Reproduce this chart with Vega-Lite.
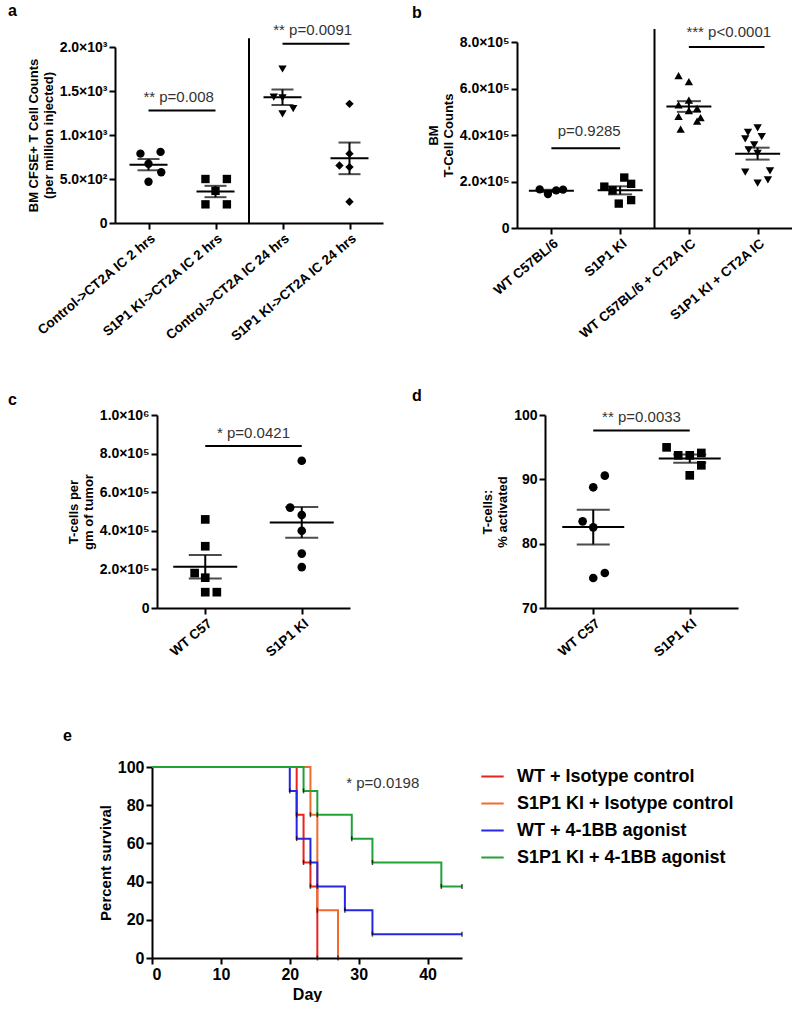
{
  "$schema": "https://vega.github.io/schema/vega-lite/v6.json",
  "padding": {"left": 8, "top": 3, "right": 0, "bottom": 0},
  "background": "white",
  "config": {
    "font": "Liberation Sans",
    "view": {"stroke": null},
    "axis": {"domainColor": "black", "domainWidth": 2, "tickColor": "black", "tickWidth": 2, "tickSize": 6, "labelFontWeight": "bold", "labelFontSize": 14, "labelColor": "black", "titleFontWeight": "bold", "titleFontSize": 13, "titleColor": "black", "grid": false, "labelOverlap": false},
    "title": {"fontSize": 16, "fontWeight": "bold", "anchor": "start", "frame": "group", "color": "black"}
  },
  "bounds": "flush",
  "spacing": 350,
  "resolve": {"scale": {"shape": "independent", "color": "independent"}},
  "vconcat": [
    {
      "bounds": "flush",
      "spacing": 402,
      "resolve": {"scale": {"shape": "independent"}},
      "hconcat": [
        {
          "bounds": "flush",
          "spacing": 0,
          "resolve": {"scale": {"shape": "independent"}},
          "vconcat": [
            {"width": 1, "height": 5, "data": {"values": []}, "mark": "point"},
            {
              "width": 268, "height": 176,
              "title": {"text": "a", "dx": -107},
              "layer": [
                {
                  "data": {"values": [
                    {"g": 1, "x": 0.88, "y": 788}, {"g": 1, "x": 1.18, "y": 808}, {"g": 1, "x": 1.0, "y": 673}, {"g": 1, "x": 1.19, "y": 577}, {"g": 1, "x": 1.0, "y": 469},
                    {"g": 2, "x": 1.85, "y": 500}, {"g": 2, "x": 2.17, "y": 500}, {"g": 2, "x": 2.0, "y": 365}, {"g": 2, "x": 1.85, "y": 212}, {"g": 2, "x": 2.17, "y": 212},
                    {"g": 3, "x": 3.0, "y": 1750}, {"g": 3, "x": 2.87, "y": 1431}, {"g": 3, "x": 3.0, "y": 1423}, {"g": 3, "x": 3.16, "y": 1300}, {"g": 3, "x": 3.0, "y": 1240},
                    {"g": 4, "x": 4.0, "y": 1354}, {"g": 4, "x": 4.0, "y": 788}, {"g": 4, "x": 3.85, "y": 654}, {"g": 4, "x": 4.0, "y": 635}, {"g": 4, "x": 4.0, "y": 242}
                  ]},
                  "mark": {"type": "point", "filled": true, "color": "black", "size": 70, "opacity": 1},
                  "encoding": {
                    "x": {"field": "x", "type": "quantitative", "scale": {"domain": [0.5, 4.5], "nice": false}, "axis": {"values": [1, 2, 3, 4], "title": null, "labelAngle": -40, "labelFontSize": 13.5, "labelOverlap": false, "labelExpr": "['','Control->CT2A IC 2 hrs','S1P1 KI->CT2A IC 2 hrs','Control->CT2A IC 24 hrs','S1P1 KI->CT2A IC 24 hrs'][datum.value]"}},
                    "y": {"field": "y", "type": "quantitative", "title": ["BM CFSE+ T Cell Counts", "(per million injected)"], "scale": {"domain": [0, 2000], "nice": false}, "axis": {"values": [0, 500, 1000, 1500, 2000], "labelOverlap": false, "labelExpr": "datum.value == 0 ? '0' : (datum.value < 1000 ? format(datum.value/100, '.1f') + '×10²' : format(datum.value/1000, '.1f') + '×10³')"}},
                    "shape": {"field": "g", "type": "nominal", "scale": {"domain": [1, 2, 3, 4], "range": ["circle", "square", "triangle-down", "diamond"]}, "legend": null}
                  }
                },
                {
                  "data": {"values": [
                    {"x": 1, "y": 788}, {"x": 1, "y": 808}, {"x": 1, "y": 673}, {"x": 1, "y": 577}, {"x": 1, "y": 469},
                    {"x": 2, "y": 500}, {"x": 2, "y": 500}, {"x": 2, "y": 365}, {"x": 2, "y": 212}, {"x": 2, "y": 212},
                    {"x": 3, "y": 1750}, {"x": 3, "y": 1431}, {"x": 3, "y": 1423}, {"x": 3, "y": 1300}, {"x": 3, "y": 1240},
                    {"x": 4, "y": 1354}, {"x": 4, "y": 788}, {"x": 4, "y": 654}, {"x": 4, "y": 635}, {"x": 4, "y": 242}
                  ]},
                  "layer": [
                    {"mark": {"type": "errorbar", "extent": "stderr", "orient": "vertical", "thickness": 2, "color": "black", "ticks": {"size": 22}},
                     "encoding": {"x": {"field": "x", "type": "quantitative", "title": null}, "y": {"field": "y", "type": "quantitative", "title": ["BM CFSE+ T Cell Counts", "(per million injected)"]}}},
                    {"mark": {"type": "tick", "orient": "horizontal", "size": 38, "thickness": 2, "color": "black"},
                     "encoding": {"x": {"field": "x", "type": "quantitative", "title": null}, "y": {"aggregate": "mean", "field": "y", "type": "quantitative", "title": ["BM CFSE+ T Cell Counts", "(per million injected)"]}}}
                  ]
                },
                {
                  "data": {"values": [{"x": 2.5, "y": 0, "y2": 2100}]},
                  "mark": {"type": "rule", "strokeWidth": 2, "color": "black"},
                  "encoding": {"x": {"field": "x", "type": "quantitative", "title": null}, "y": {"field": "y", "type": "quantitative", "title": ["BM CFSE+ T Cell Counts", "(per million injected)"]}, "y2": {"field": "y2"}}
                },
                {
                  "data": {"values": [{"x": 1, "x2": 2, "y": 1277}, {"x": 3, "x2": 4, "y": 2038}]},
                  "mark": {"type": "rule", "strokeWidth": 2, "color": "black"},
                  "encoding": {"x": {"field": "x", "type": "quantitative", "title": null}, "x2": {"field": "x2"}, "y": {"field": "y", "type": "quantitative", "title": ["BM CFSE+ T Cell Counts", "(per million injected)"]}}
                },
                {
                  "data": {"values": [{"x": 1.45, "y": 1375, "t": "** p=0.008"}, {"x": 3.45, "y": 2136, "t": "** p=0.0091"}]},
                  "mark": {"type": "text", "fontSize": 15, "color": "#333", "align": "center", "baseline": "alphabetic"},
                  "encoding": {"x": {"field": "x", "type": "quantitative", "title": null}, "y": {"field": "y", "type": "quantitative", "title": ["BM CFSE+ T Cell Counts", "(per million injected)"]}, "text": {"field": "t"}}
                }
              ]
            }
          ]
        },
        {
          "width": 275, "height": 186,
          "title": {"text": "b", "dx": -105},
          "layer": [
            {
              "data": {"values": [
                {"g": 1, "x": 0.83, "y": 166000}, {"g": 1, "x": 0.95, "y": 146000}, {"g": 1, "x": 1.07, "y": 162000}, {"g": 1, "x": 1.17, "y": 165000},
                {"g": 2, "x": 2.06, "y": 217000}, {"g": 2, "x": 2.16, "y": 190000}, {"g": 2, "x": 1.77, "y": 178000}, {"g": 2, "x": 1.89, "y": 162000}, {"g": 2, "x": 2.16, "y": 120000}, {"g": 2, "x": 1.98, "y": 105000},
                {"g": 3, "x": 2.85, "y": 655000}, {"g": 3, "x": 3.0, "y": 630000}, {"g": 3, "x": 3.0, "y": 550000}, {"g": 3, "x": 2.85, "y": 530000}, {"g": 3, "x": 3.12, "y": 515000}, {"g": 3, "x": 3.0, "y": 505000}, {"g": 3, "x": 2.85, "y": 480000}, {"g": 3, "x": 3.17, "y": 475000}, {"g": 3, "x": 3.12, "y": 460000}, {"g": 3, "x": 2.88, "y": 425000},
                {"g": 4, "x": 4.0, "y": 431000}, {"g": 4, "x": 3.86, "y": 411000}, {"g": 4, "x": 3.82, "y": 383000}, {"g": 4, "x": 4.06, "y": 393000}, {"g": 4, "x": 3.95, "y": 357000}, {"g": 4, "x": 3.87, "y": 336000}, {"g": 4, "x": 4.0, "y": 321000}, {"g": 4, "x": 3.82, "y": 240000}, {"g": 4, "x": 4.18, "y": 246000}, {"g": 4, "x": 4.0, "y": 193000}, {"g": 4, "x": 4.15, "y": 207000}
              ]},
              "mark": {"type": "point", "filled": true, "color": "black", "size": 70, "opacity": 1},
              "encoding": {
                "x": {"field": "x", "type": "quantitative", "scale": {"domain": [0.5, 4.5], "nice": false}, "axis": {"values": [1, 2, 3, 4], "title": null, "labelAngle": -40, "labelFontSize": 13.5, "labelOverlap": false, "labelExpr": "['','WT C57BL/6','S1P1 KI','WT C57BL/6 + CT2A IC','S1P1 KI + CT2A IC'][datum.value]"}},
                "y": {"field": "y", "type": "quantitative", "title": ["BM", "T-Cell Counts"], "scale": {"domain": [0, 800000], "nice": false}, "axis": {"values": [0, 200000, 400000, 600000, 800000], "labelOverlap": false, "labelExpr": "datum.value == 0 ? '0' : format(datum.value/100000, '.1f') + '×10⁵'"}},
                "shape": {"field": "g", "type": "nominal", "scale": {"domain": [1, 2, 3, 4], "range": ["circle", "square", "triangle-up", "triangle-down"]}, "legend": null}
              }
            },
            {
              "data": {"values": [
                {"x": 1, "y": 166000}, {"x": 1, "y": 146000}, {"x": 1, "y": 162000}, {"x": 1, "y": 165000},
                {"x": 2, "y": 217000}, {"x": 2, "y": 190000}, {"x": 2, "y": 178000}, {"x": 2, "y": 162000}, {"x": 2, "y": 120000}, {"x": 2, "y": 105000},
                {"x": 3, "y": 655000}, {"x": 3, "y": 630000}, {"x": 3, "y": 550000}, {"x": 3, "y": 530000}, {"x": 3, "y": 515000}, {"x": 3, "y": 505000}, {"x": 3, "y": 480000}, {"x": 3, "y": 475000}, {"x": 3, "y": 460000}, {"x": 3, "y": 425000},
                {"x": 4, "y": 431000}, {"x": 4, "y": 411000}, {"x": 4, "y": 383000}, {"x": 4, "y": 393000}, {"x": 4, "y": 357000}, {"x": 4, "y": 336000}, {"x": 4, "y": 321000}, {"x": 4, "y": 240000}, {"x": 4, "y": 246000}, {"x": 4, "y": 193000}, {"x": 4, "y": 207000}
              ]},
              "layer": [
                {"mark": {"type": "errorbar", "extent": "stderr", "orient": "vertical", "thickness": 2, "color": "black", "ticks": {"size": 24}},
                 "encoding": {"x": {"field": "x", "type": "quantitative", "title": null}, "y": {"field": "y", "type": "quantitative", "title": ["BM", "T-Cell Counts"]}}},
                {"mark": {"type": "tick", "orient": "horizontal", "size": 45, "thickness": 2, "color": "black"},
                 "encoding": {"x": {"field": "x", "type": "quantitative", "title": null}, "y": {"aggregate": "mean", "field": "y", "type": "quantitative", "title": ["BM", "T-Cell Counts"]}}}
              ]
            },
            {
              "data": {"values": [{"x": 2.5, "y": 0, "y2": 856000}]},
              "mark": {"type": "rule", "strokeWidth": 2, "color": "black"},
              "encoding": {"x": {"field": "x", "type": "quantitative", "title": null}, "y": {"field": "y", "type": "quantitative", "title": ["BM", "T-Cell Counts"]}, "y2": {"field": "y2"}}
            },
            {
              "data": {"values": [{"x": 1, "x2": 2, "y": 343000}, {"x": 3, "x2": 4.1, "y": 778000}]},
              "mark": {"type": "rule", "strokeWidth": 2, "color": "black"},
              "encoding": {"x": {"field": "x", "type": "quantitative", "title": null}, "x2": {"field": "x2"}, "y": {"field": "y", "type": "quantitative", "title": ["BM", "T-Cell Counts"]}}
            },
            {
              "data": {"values": [{"x": 1.55, "y": 396000, "t": "p=0.9285"}, {"x": 3.58, "y": 820000, "t": "*** p<0.0001"}]},
              "mark": {"type": "text", "fontSize": 15, "color": "#333", "align": "center", "baseline": "alphabetic"},
              "encoding": {"x": {"field": "x", "type": "quantitative", "title": null}, "y": {"field": "y", "type": "quantitative", "title": ["BM", "T-Cell Counts"]}, "text": {"field": "t"}}
            }
          ]
        }
      ]
    },
    {
      "bounds": "flush",
      "spacing": 0,
      "resolve": {"scale": {"shape": "independent"}},
      "vconcat": [
        {"width": 1, "height": 23, "data": {"values": []}, "mark": "point"},
        {
          "bounds": "flush",
          "spacing": 0,
          "resolve": {"scale": {"shape": "independent"}},
          "hconcat": [
            {"width": 42, "height": 1, "data": {"values": []}, "mark": "point"},
            {
              "bounds": "flush",
              "spacing": 195,
              "resolve": {"scale": {"shape": "independent"}},
              "hconcat": [
                {
                  "width": 193, "height": 193,
                  "title": {"text": "c", "dx": -149, "dy": 4},
                  "layer": [
                    {
                      "data": {"values": [
                        {"g": 1, "x": 1.0, "y": 459000}, {"g": 1, "x": 1.0, "y": 320000}, {"g": 1, "x": 0.89, "y": 181000}, {"g": 1, "x": 1.0, "y": 157000}, {"g": 1, "x": 1.0, "y": 82000}, {"g": 1, "x": 1.12, "y": 82000},
                        {"g": 2, "x": 2.0, "y": 763000}, {"g": 2, "x": 1.88, "y": 520000}, {"g": 2, "x": 2.0, "y": 482000}, {"g": 2, "x": 2.0, "y": 400000}, {"g": 2, "x": 2.0, "y": 282000}, {"g": 2, "x": 2.0, "y": 212000}
                      ]},
                      "mark": {"type": "point", "filled": true, "color": "black", "size": 75, "opacity": 1},
                      "encoding": {
                        "x": {"field": "x", "type": "quantitative", "scale": {"domain": [0.5, 2.5], "nice": false}, "axis": {"values": [1, 2], "title": null, "labelAngle": -40, "labelFontSize": 13.5, "labelOverlap": false, "labelExpr": "['','WT C57','S1P1 KI'][datum.value]"}},
                        "y": {"field": "y", "type": "quantitative", "title": ["T-cells per", "gm of tumor"], "scale": {"domain": [0, 1000000], "nice": false}, "axis": {"values": [0, 200000, 400000, 600000, 800000, 1000000], "tickCount": 6, "labelOverlap": false, "labelExpr": "datum.value == 0 ? '0' : (datum.value > 900000 ? '1.0×10⁶' : format(datum.value/100000, '.1f') + '×10⁵')"}},
                        "shape": {"field": "g", "type": "nominal", "scale": {"domain": [1, 2], "range": ["square", "circle"]}, "legend": null}
                      }
                    },
                    {
                      "data": {"values": [
                        {"x": 1, "y": 459000}, {"x": 1, "y": 320000}, {"x": 1, "y": 181000}, {"x": 1, "y": 157000}, {"x": 1, "y": 82000}, {"x": 1, "y": 82000},
                        {"x": 2, "y": 763000}, {"x": 2, "y": 520000}, {"x": 2, "y": 482000}, {"x": 2, "y": 400000}, {"x": 2, "y": 282000}, {"x": 2, "y": 212000}
                      ]},
                      "layer": [
                        {"mark": {"type": "errorbar", "extent": "stderr", "orient": "vertical", "thickness": 2, "color": "black", "ticks": {"size": 33}},
                         "encoding": {"x": {"field": "x", "type": "quantitative", "title": null}, "y": {"field": "y", "type": "quantitative", "title": ["T-cells per", "gm of tumor"]}}},
                        {"mark": {"type": "tick", "orient": "horizontal", "size": 64, "thickness": 2, "color": "black"},
                         "encoding": {"x": {"field": "x", "type": "quantitative", "title": null}, "y": {"aggregate": "mean", "field": "y", "type": "quantitative", "title": ["T-cells per", "gm of tumor"]}}}
                      ]
                    },
                    {
                      "data": {"values": [{"x": 1, "x2": 2, "y": 839000}]},
                      "mark": {"type": "rule", "strokeWidth": 2, "color": "black"},
                      "encoding": {"x": {"field": "x", "type": "quantitative", "title": null}, "x2": {"field": "x2"}, "y": {"field": "y", "type": "quantitative", "title": ["T-cells per", "gm of tumor"]}}
                    },
                    {
                      "data": {"values": [{"x": 1.5, "y": 880000, "t": "* p=0.0421"}]},
                      "mark": {"type": "text", "fontSize": 15, "color": "#333", "align": "center", "baseline": "alphabetic"},
                      "encoding": {"x": {"field": "x", "type": "quantitative", "title": null}, "y": {"field": "y", "type": "quantitative", "title": ["T-cells per", "gm of tumor"]}, "text": {"field": "t"}}
                    }
                  ]
                },
                {
                  "width": 193, "height": 193,
                  "title": {"text": "d", "dx": -133},
                  "layer": [
                    {
                      "data": {"values": [
                        {"g": 1, "x": 1.12, "y": 90.57}, {"g": 1, "x": 1.0, "y": 88.76}, {"g": 1, "x": 0.89, "y": 83.47}, {"g": 1, "x": 1.0, "y": 82.54}, {"g": 1, "x": 1.12, "y": 75.44}, {"g": 1, "x": 1.0, "y": 74.66},
                        {"g": 2, "x": 1.76, "y": 94.97}, {"g": 2, "x": 1.88, "y": 93.73}, {"g": 2, "x": 2.0, "y": 93.73}, {"g": 2, "x": 2.12, "y": 94.1}, {"g": 2, "x": 2.12, "y": 92.18}, {"g": 2, "x": 2.0, "y": 90.62}
                      ]},
                      "mark": {"type": "point", "filled": true, "color": "black", "size": 75, "opacity": 1},
                      "encoding": {
                        "x": {"field": "x", "type": "quantitative", "scale": {"domain": [0.5, 2.5], "nice": false}, "axis": {"values": [1, 2], "title": null, "labelAngle": -40, "labelFontSize": 13.5, "labelOverlap": false, "labelExpr": "['','WT C57','S1P1 KI'][datum.value]"}},
                        "y": {"field": "y", "type": "quantitative", "title": ["T-cells:", "% activated"], "scale": {"domain": [70, 100], "nice": false, "zero": false}, "axis": {"values": [70, 80, 90, 100], "labelOverlap": false}},
                        "shape": {"field": "g", "type": "nominal", "scale": {"domain": [1, 2], "range": ["circle", "square"]}, "legend": null}
                      }
                    },
                    {
                      "data": {"values": [
                        {"x": 1, "y": 90.57}, {"x": 1, "y": 88.76}, {"x": 1, "y": 83.47}, {"x": 1, "y": 82.54}, {"x": 1, "y": 75.44}, {"x": 1, "y": 74.66},
                        {"x": 2, "y": 94.97}, {"x": 2, "y": 93.73}, {"x": 2, "y": 93.73}, {"x": 2, "y": 94.1}, {"x": 2, "y": 92.18}, {"x": 2, "y": 90.62}
                      ]},
                      "layer": [
                        {"mark": {"type": "errorbar", "extent": "stderr", "orient": "vertical", "thickness": 2, "color": "black", "ticks": {"size": 33}},
                         "encoding": {"x": {"field": "x", "type": "quantitative", "title": null}, "y": {"field": "y", "type": "quantitative", "title": ["T-cells:", "% activated"], "scale": {"zero": false}}}},
                        {"mark": {"type": "tick", "orient": "horizontal", "size": 62, "thickness": 2, "color": "black"},
                         "encoding": {"x": {"field": "x", "type": "quantitative", "title": null}, "y": {"aggregate": "mean", "field": "y", "type": "quantitative", "title": ["T-cells:", "% activated"], "scale": {"zero": false}}}}
                      ]
                    },
                    {
                      "data": {"values": [{"x": 1, "x2": 2, "y": 97.6}]},
                      "mark": {"type": "rule", "strokeWidth": 2, "color": "black"},
                      "encoding": {"x": {"field": "x", "type": "quantitative", "title": null}, "x2": {"field": "x2"}, "y": {"field": "y", "type": "quantitative", "title": ["T-cells:", "% activated"], "scale": {"zero": false}}}
                    },
                    {
                      "data": {"values": [{"x": 1.5, "y": 98.9, "t": "** p=0.0033"}]},
                      "mark": {"type": "text", "fontSize": 15, "color": "#333", "align": "center", "baseline": "alphabetic"},
                      "encoding": {"x": {"field": "x", "type": "quantitative", "title": null}, "y": {"field": "y", "type": "quantitative", "title": ["T-cells:", "% activated"], "scale": {"zero": false}}, "text": {"field": "t"}}
                    }
                  ]
                }
              ]
            }
          ]
        }
      ]
    },
    {
      "bounds": "flush",
      "spacing": 0,
      "resolve": {"scale": {"color": "independent"}},
      "vconcat": [
        {"width": 1, "height": 25, "data": {"values": []}, "mark": "point"},
        {
          "bounds": "flush",
          "spacing": 0,
          "resolve": {"scale": {"color": "independent"}},
          "hconcat": [
            {"width": 37, "height": 1, "data": {"values": []}, "mark": "point"},
            {
              "width": 310, "height": 191,
              "title": {"text": "e", "dx": -89, "dy": -11},
              "data": {"values": [
                {"s": "WT + Isotype control", "day": 0, "pct": 100}, {"s": "WT + Isotype control", "day": 21, "pct": 75}, {"s": "WT + Isotype control", "day": 22, "pct": 50}, {"s": "WT + Isotype control", "day": 23, "pct": 37.5}, {"s": "WT + Isotype control", "day": 24, "pct": 0},
                {"s": "S1P1 KI + Isotype control", "day": 0, "pct": 100}, {"s": "S1P1 KI + Isotype control", "day": 23, "pct": 75}, {"s": "S1P1 KI + Isotype control", "day": 24, "pct": 25}, {"s": "S1P1 KI + Isotype control", "day": 27, "pct": 0},
                {"s": "WT + 4-1BB agonist", "day": 0, "pct": 100}, {"s": "WT + 4-1BB agonist", "day": 20, "pct": 87.5}, {"s": "WT + 4-1BB agonist", "day": 21, "pct": 62.5}, {"s": "WT + 4-1BB agonist", "day": 23, "pct": 50}, {"s": "WT + 4-1BB agonist", "day": 24, "pct": 37.5}, {"s": "WT + 4-1BB agonist", "day": 28, "pct": 25}, {"s": "WT + 4-1BB agonist", "day": 32, "pct": 12.5}, {"s": "WT + 4-1BB agonist", "day": 45, "pct": 12.5},
                {"s": "S1P1 KI + 4-1BB agonist", "day": 0, "pct": 100}, {"s": "S1P1 KI + 4-1BB agonist", "day": 22, "pct": 87.5}, {"s": "S1P1 KI + 4-1BB agonist", "day": 24, "pct": 75}, {"s": "S1P1 KI + 4-1BB agonist", "day": 29, "pct": 62.5}, {"s": "S1P1 KI + 4-1BB agonist", "day": 32, "pct": 50}, {"s": "S1P1 KI + 4-1BB agonist", "day": 42, "pct": 37.5}, {"s": "S1P1 KI + 4-1BB agonist", "day": 45, "pct": 37.5}
              ]},
              "encoding": {
                "x": {"field": "day", "type": "quantitative", "title": "Day", "scale": {"domain": [0, 45], "nice": false}, "axis": {"values": [0, 10, 20, 30, 40], "titleFontSize": 16, "labelFontSize": 16, "titlePadding": 4}},
                "y": {"field": "pct", "type": "quantitative", "title": "Percent survival", "scale": {"domain": [0, 100], "nice": false}, "axis": {"values": [0, 20, 40, 60, 80, 100], "titleFontSize": 15, "labelFontSize": 16}}
              },
              "layer": [
                {
                  "mark": {"type": "line", "interpolate": "step-after", "strokeWidth": 2},
                  "encoding": {
                    "color": {"field": "s", "type": "nominal", "scale": {"domain": ["WT + Isotype control", "S1P1 KI + Isotype control", "WT + 4-1BB agonist", "S1P1 KI + 4-1BB agonist"], "range": ["#e8221e", "#f26a2c", "#2626e6", "#22a236"]},
                      "legend": {"orient": "none", "legendX": 328, "legendY": -3, "title": null, "symbolType": "stroke", "symbolStrokeWidth": 2, "symbolSize": 500, "labelFontSize": 18, "labelFontWeight": "bold", "labelColor": "black", "labelLimit": 400, "rowPadding": 5, "labelOffset": 12}}
                  }
                },
                {
                  "transform": [{"filter": "datum.day > 0"}],
                  "mark": {"type": "tick", "orient": "vertical", "size": 5, "thickness": 1.5, "color": "black"}
                },
                {
                  "data": {"values": [{"day": 28.2, "pct": 91.5, "t": "* p=0.0198"}]},
                  "mark": {"type": "text", "fontSize": 15, "color": "#333", "align": "left", "baseline": "middle"},
                  "encoding": {"text": {"field": "t"}}
                }
              ]
            }
          ]
        }
      ]
    }
  ]
}
